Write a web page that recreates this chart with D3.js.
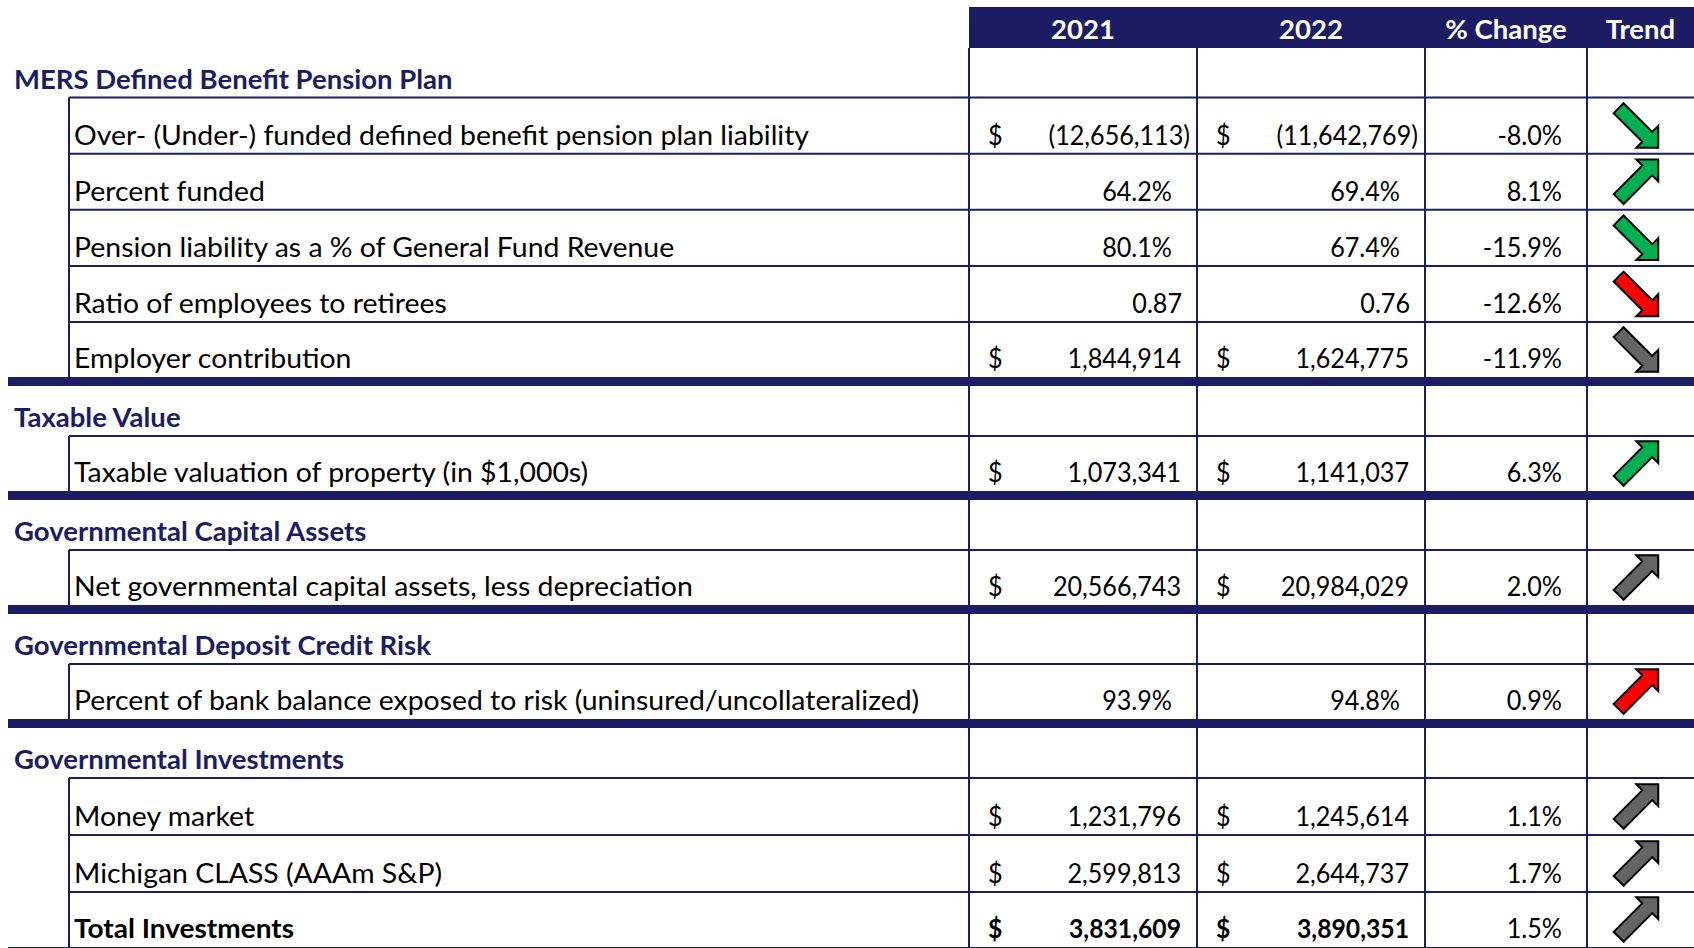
<!DOCTYPE html>
<html><head><meta charset="utf-8">
<script src="https://cdn.jsdelivr.net/npm/d3@7"></script>
<style>
html,body{margin:0;padding:0;background:#fff;}
svg{display:block;}
</style></head><body>
<svg id="chart" width="1694" height="948"></svg>
<script>
// ---------------- data ----------------
const columnHeaders = ["2021", "2022", "% Change", "Trend"];
const sectionTitles = [
  "MERS Defined Benefit Pension Plan",
  "Taxable Value",
  "Governmental Capital Assets",
  "Governmental Deposit Credit Risk",
  "Governmental Investments"
];
const rowLabels = [
  "Over- (Under-) funded defined benefit pension plan liability",
  "Percent funded",
  "Pension liability as a % of General Fund Revenue",
  "Ratio of employees to retirees",
  "Employer contribution",
  "Taxable valuation of property (in $1,000s)",
  "Net governmental capital assets, less depreciation",
  "Percent of bank balance exposed to risk (uninsured/uncollateralized)",
  "Money market",
  "Michigan CLASS (AAAm S&P)",
  "Total Investments"
];
const rowSection = [0, 0, 0, 0, 0, 1, 2, 3, 4, 4, 4];
const valueTypes = ["currency", "percent", "percent", "ratio", "currency", "currency", "currency", "percent", "currency", "currency", "currency"];
const values2021 = [-12656113, 0.642, 0.801, 0.87, 1844914, 1073341, 20566743, 0.939, 1231796, 2599813, 3831609];
const values2022 = [-11642769, 0.694, 0.674, 0.76, 1624775, 1141037, 20984029, 0.948, 1245614, 2644737, 3890351];
const pctChange = [-0.080, 0.081, -0.159, -0.126, -0.119, 0.063, 0.020, 0.009, 0.011, 0.017, 0.015];
const trendDirection = ["down", "up", "down", "down", "down", "up", "up", "up", "up", "up", "up"];
const trendColor = ["green", "green", "green", "red", "gray", "green", "gray", "red", "gray", "gray", "gray"];
const boldRows = [false, false, false, false, false, false, false, false, false, false, true];

// ---------------- layout / style ----------------
const W = 1694, H = 948;
const NAVY = "#1b1c64";
const FONT = "Lato, 'Noto Sans', sans-serif";
const FS = 27;
const colorMap = {green: "#00b050", red: "#ff0000", gray: "#646464"};
const colEdges = [969, 1197, 1425, 1587, W];
const labelX = 74, indentX = 69, titleX = 14, thickX = 8;

const svg = d3.select("#chart");
svg.append("rect").attr("width", W).attr("height", H).attr("fill", "#fff");

const locale = d3.formatLocale({decimal: ".", thousands: ",", grouping: [3], currency: ["$", ""], minus: "-"});
const fmtInt = locale.format(",.0f"), fmtPct = locale.format(".1%"), fmtRatio = locale.format(".2f");

// grid rows
const grid = [];
sectionTitles.forEach((t, s) => {
  grid.push({kind: "section", s, title: t});
  rowLabels.forEach((l, i) => { if (rowSection[i] === s) grid.push({kind: "data", s, i}); });
});
grid.forEach((g, k) => {
  g.k = k;
  const next = grid[k + 1];
  g.thick = g.kind === "data" && (!next || next.kind === "section");
});

const headerTop = 7, headerBottom = 48;
const yB = d3.scaleLinear().domain([0, 4, grid.length - 1]).range([97.5, 322, 949]);
grid.forEach((g, k) => {
  g.bottom = yB(k);
  g.top = k === 0 ? headerBottom : yB(k - 1) + (grid[k - 1].thick ? 7 : 0);
  g.effBottom = g.thick ? g.bottom - 2 : g.bottom;
  g.baseline = g.thick ? g.bottom - 11 : g.bottom - 9;
  g.mid = (g.top + g.effBottom) / 2;
});

// header band
svg.append("rect").attr("x", colEdges[0]).attr("y", headerTop)
  .attr("width", W - colEdges[0]).attr("height", headerBottom - headerTop).attr("fill", NAVY);

const texts = [];
function addText(x, y, str, opts = {}) {
  const t = svg.append("text").attr("x", x).attr("y", y).text(str)
    .attr("font-family", FONT).attr("font-size", FS)
    .attr("font-weight", opts.bold ? "bold" : "normal")
    .attr("fill", opts.fill || "#000")
    .attr("text-anchor", opts.anchor || "start");
  texts.push({t, bold: !!opts.bold, kind: opts.kind || "label"});
  return t;
}

columnHeaders.forEach((h, c) => {
  addText((colEdges[c] + colEdges[c + 1]) / 2, 39, h, {bold: true, fill: "#fff", anchor: "middle", kind: "title"});
});

// column verticals
const gridG = svg.append("g");
colEdges.slice(0, 4).forEach(x => {
  gridG.append("line").attr("x1", x).attr("x2", x).attr("y1", headerBottom).attr("y2", H)
    .attr("stroke", NAVY).attr("stroke-width", 2);
});
// thin horizontals
grid.filter(g => !g.thick).forEach(g => {
  gridG.append("line").attr("x1", indentX).attr("x2", W).attr("y1", g.bottom).attr("y2", g.bottom)
    .attr("stroke", NAVY).attr("stroke-width", 2);
});
// indent verticals per section
sectionTitles.forEach((t, s) => {
  const rows = grid.filter(g => g.s === s);
  const head = rows[0], last = rows[rows.length - 1];
  gridG.append("line").attr("x1", indentX).attr("x2", indentX)
    .attr("y1", head.bottom).attr("y2", last.bottom - 2)
    .attr("stroke", NAVY).attr("stroke-width", 2);
});
// thick separators
grid.filter(g => g.thick).forEach(g => {
  gridG.append("rect").attr("x", thickX).attr("y", g.bottom - 2).attr("width", W - thickX).attr("height", 9)
    .attr("fill", NAVY);
});

// cell contents
function formatValue(v, type) {
  if (type === "percent") return {s: fmtPct(v), pad: 25};
  if (type === "ratio") return {s: fmtRatio(v), pad: 15};
  if (v < 0) return {s: "(" + fmtInt(-v) + ")", pad: 7};
  return {s: fmtInt(v), pad: 16};
}

const arrowPath = "M-28,-7 L12.5,-7 L12.5,-15.5 L28,0 L12.5,15.5 L12.5,7 L-28,7 Z";
const arrowCx = 1636;

grid.forEach(g => {
  if (g.kind === "section") {
    addText(titleX, g.baseline, g.title, {bold: true, fill: NAVY, kind: "title"});
    return;
  }
  const i = g.i, bold = boldRows[i];
  addText(labelX, g.baseline, rowLabels[i], {bold});
  [values2021[i], values2022[i]].forEach((v, c) => {
    const f = formatValue(v, valueTypes[i]);
    if (valueTypes[i] === "currency") addText(colEdges[c] + 19, g.baseline, "$", {bold, kind: "num"});
    addText(colEdges[c + 1] - f.pad, g.baseline, f.s, {bold, anchor: "end", kind: "num"});
  });
  addText(colEdges[3] - 25, g.baseline, fmtPct(pctChange[i]), {anchor: "end", kind: "num"});
  const down = trendDirection[i] === "down";
  svg.append("path").attr("d", arrowPath)
    .attr("transform", `translate(${arrowCx + 2.45},${g.mid + (down ? 2.45 : -2.45)}) rotate(${down ? 45 : -45})`)
    .attr("fill", colorMap[trendColor[i]]).attr("stroke", "#000").attr("stroke-width", 2)
    .attr("stroke-linejoin", "miter");
});

// calibrate glyph widths to the reference (Calibri-like metrics)
function measure(str, bold) {
  const t = svg.append("text").attr("font-family", FONT).attr("font-size", FS)
    .attr("font-weight", bold ? "bold" : "normal").text(str);
  const w = t.node().getComputedTextLength();
  t.remove();
  return w;
}
const kLabel = 735 / measure(rowLabels[0], false);
const kLabelBold = 220 / measure("Total Investments", true);
const kTitle = 438.6 / measure(sectionTitles[0], true);
const kNum = 113.5 / measure("1,844,914", false);
const kNumBold = 112 / measure("3,831,609", true);
texts.forEach(({t, bold, kind}) => {
  const len = t.node().getComputedTextLength();
  let k;
  if (kind === "title") k = kTitle;
  else if (kind === "num") k = bold ? kNumBold : kNum;
  else k = bold ? kLabelBold : kLabel;
  t.attr("textLength", len * k).attr("lengthAdjust", "spacingAndGlyphs");
});
</script>
</body></html>
